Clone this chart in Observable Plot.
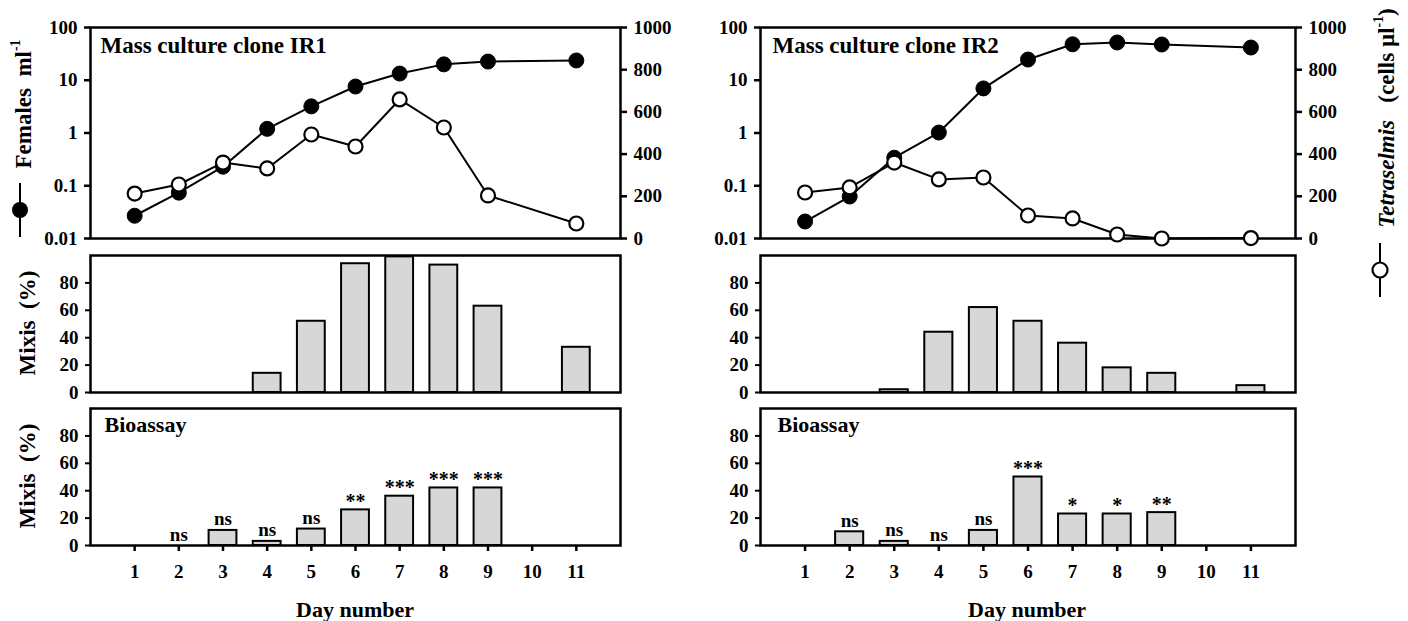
<!DOCTYPE html>
<html><head><meta charset="utf-8">
<script src="https://cdn.jsdelivr.net/npm/d3@7"></script>
<script src="https://cdn.jsdelivr.net/npm/@observablehq/plot@0.6"></script>
<style>
body{margin:0;background:#fff;}
#wrap{position:relative;width:1408px;height:621px;overflow:hidden;font-family:"Liberation Serif","Times New Roman",serif;font-weight:bold;color:#000;background:#fff;}
.rot{position:absolute;transform:translate(-50%,-50%) rotate(-90deg);white-space:nowrap;font-size:23px;line-height:1;}
.lab{position:absolute;transform:translate(-50%,-50%);white-space:nowrap;font-size:22px;line-height:1;}
sup{font-size:0.6em;vertical-align:0.75em;line-height:0;}
</style></head>
<body><div id="wrap"></div>
<script>
// ---- data ----
const days = [1, 2, 3, 4, 5, 6, 7, 8, 9, 11];
const femalesIR1 = [0.027, 0.074, 0.23, 1.2, 3.2, 7.6, 13.4, 20, 22.6, 23.7];
const tetraIR1 = [213, 256, 360, 332, 493, 436, 659, 526, 204, 71];
const femalesIR2 = [0.021, 0.0625, 0.34, 1.02, 7.0, 24.7, 48, 52, 47.6, 41.7];
const tetraIR2 = [218, 242, 360, 280, 289, 109, 95, 19, 0, 2];
const mixisDaysIR1 = [4, 5, 6, 7, 8, 9, 11];
const mixisIR1 = [14, 52, 94, 99, 93, 63, 33];
const mixisDaysIR2 = [3, 4, 5, 6, 7, 8, 9, 11];
const mixisIR2 = [2, 44, 62, 52, 36, 18, 14, 5];
const bioDays = [2, 3, 4, 5, 6, 7, 8, 9];
const bioIR1 = [0, 11, 3, 12, 26, 36, 42, 42];
const bioSigIR1 = ["ns", "ns", "ns", "ns", "**", "***", "***", "***"];
const bioIR2 = [10, 3, 0, 11, 50, 23, 23, 24];
const bioSigIR2 = ["ns", "ns", "ns", "ns", "***", "*", "*", "**"];
const dayTicks = [1, 2, 3, 4, 5, 6, 7, 8, 9, 10, 11];
const logTicks = [0.01, 0.1, 1, 10, 100];
const linTicks = [0, 200, 400, 600, 800, 1000];
const pctTicks = [0, 20, 40, 60, 80];
const titles = ["Mass culture clone IR1", "Mass culture clone IR2"];
const bioTitle = "Bioassay";

// ---- layout ----
const wrap = document.getElementById("wrap");
const FONT = "'Liberation Serif','Times New Roman',serif";
const styleStr = `font-family:${FONT};font-size:19px;font-weight:bold;background:transparent;overflow:visible;color:#000;`;
const BAR_HALF = 0.315;
const BAR_FILL = "#d7d7d7";
const cols = [
  {left: 0, width: 700, ml: 90, mr: 80, dxTitle: 10, dxBio: 14},
  {left: 680, width: 720, ml: 80, mr: 105, dxTitle: 12, dxBio: 17}
];
function place(svg, left, top) {
  svg.style.position = "absolute";
  svg.style.left = left + "px";
  svg.style.top = top + "px";
  svg.style.maxWidth = "none";
  wrap.appendChild(svg);
  return svg;
}
const rows = days.map((d, i) => i);

function topPanel(col, fem, tet, title) {
  const femData = days.map((d, i) => ({day: d, v: fem[i]}));
  const tetData = days.map((d, i) => ({day: d, v: tet[i]}));
  const common = {width: col.width, height: 250, marginLeft: col.ml, marginRight: col.mr, marginTop: 27, marginBottom: 12, style: styleStr};
  const a = Plot.plot({
    ...common,
    x: {domain: [0, 12], axis: null},
    y: {type: "log", domain: [0.01, 100], axis: null},
    marks: [
      Plot.frame({stroke: "black", strokeWidth: 2.5}),
      Plot.axisY({ticks: logTicks, tickFormat: d => String(d), tickSize: 6, tickPadding: 7, strokeWidth: 2.5, label: null}),
      Plot.line(femData, {x: "day", y: "v", stroke: "black", strokeWidth: 2}),
      Plot.dot(femData, {x: "day", y: "v", r: 7.5, fill: "black", stroke: "black", strokeWidth: 1}),
      Plot.text([title], {text: d => d, frameAnchor: "top-left", textAnchor: "start", lineAnchor: "top", dx: col.dxTitle, dy: 9, fontSize: 23, fontWeight: "bold"})
    ]
  });
  place(a, col.left, 0);
  const b = Plot.plot({
    ...common,
    x: {domain: [0, 12], axis: null},
    y: {domain: [0, 1000], axis: null},
    marks: [
      Plot.axisY({anchor: "right", ticks: linTicks, tickFormat: d => String(d), tickSize: 6, tickPadding: 7, strokeWidth: 2.5, label: null}),
      Plot.line(tetData, {x: "day", y: "v", stroke: "black", strokeWidth: 2}),
      Plot.dot(tetData, {x: "day", y: "v", r: 7, fill: "white", stroke: "black", strokeWidth: 2.2})
    ]
  });
  b.style.pointerEvents = "none";
  place(b, col.left, 0);
}

function mixisPanel(col, dArr, vals) {
  const data = dArr.map((d, i) => ({day: d, v: vals[i]}));
  const p = Plot.plot({
    width: col.width, height: 160, marginLeft: col.ml, marginRight: col.mr, marginTop: 15, marginBottom: 8, style: styleStr,
    x: {domain: [0, 12], axis: null},
    y: {domain: [0, 100], axis: null},
    marks: [
      Plot.rect(data.filter(d => d.v > 0), {x1: d => d.day - BAR_HALF, x2: d => d.day + BAR_HALF, y1: 0, y2: "v", fill: BAR_FILL, stroke: "black", strokeWidth: 2}),
      Plot.frame({stroke: "black", strokeWidth: 2.5}),
      Plot.axisY({ticks: pctTicks, tickSize: 5, tickPadding: 7, strokeWidth: 2, label: null})
    ]
  });
  place(p, col.left, 240);
}

function bioPanel(col, vals, sig) {
  const data = bioDays.map((d, i) => ({day: d, v: vals[i], s: sig[i]}));
  const p = Plot.plot({
    width: col.width, height: 185, marginLeft: col.ml, marginRight: col.mr, marginTop: 13, marginBottom: 35, style: styleStr,
    x: {domain: [0, 12], axis: null},
    y: {domain: [0, 100], axis: null},
    marks: [
      Plot.rect(data.filter(d => d.v > 0), {x1: d => d.day - BAR_HALF, x2: d => d.day + BAR_HALF, y1: 0, y2: "v", fill: BAR_FILL, stroke: "black", strokeWidth: 2}),
      Plot.frame({stroke: "black", strokeWidth: 2.5}),
      Plot.axisY({ticks: pctTicks, tickSize: 5, tickPadding: 7, strokeWidth: 2, label: null}),
      Plot.axisX({ticks: dayTicks, tickFormat: d => String(d), tickSize: 6, tickPadding: 13, strokeWidth: 2.5, label: null}),
      Plot.text(data.filter(d => d.s === "ns"), {x: "day", y: "v", text: "s", lineAnchor: "bottom", dy: -5, fontSize: 19, fontWeight: "bold"}),
      Plot.text(data.filter(d => d.s !== "ns"), {x: "day", y: "v", text: "s", lineAnchor: "bottom", dy: -2, fontSize: 20, fontWeight: "bold"}),
      Plot.text([bioTitle], {text: d => d, frameAnchor: "top-left", textAnchor: "start", lineAnchor: "top", dx: col.dxBio, dy: 8, fontSize: 22, fontWeight: "bold"})
    ]
  });
  place(p, col.left, 395);
}

topPanel(cols[0], femalesIR1, tetraIR1, titles[0]);
topPanel(cols[1], femalesIR2, tetraIR2, titles[1]);
mixisPanel(cols[0], mixisDaysIR1, mixisIR1);
mixisPanel(cols[1], mixisDaysIR2, mixisIR2);
bioPanel(cols[0], bioIR1, bioSigIR1);
bioPanel(cols[1], bioIR2, bioSigIR2);

// ---- axis titles & legend glyphs ----
function html(s) { const t = document.createElement("template"); t.innerHTML = s.trim(); const n = t.content.firstChild; wrap.appendChild(n); return n; }
html(`<div class="rot" style="left:23px;top:104px;">Females&nbsp; ml<sup>-1</sup></div>`);
html(`<div class="rot" style="left:27px;top:323px;">Mixis&nbsp; (%)</div>`);
html(`<div class="rot" style="left:27px;top:476px;">Mixis&nbsp; (%)</div>`);
html(`<div class="rot" style="left:1386px;top:118px;"><i>Tetraselmis</i>&nbsp;&nbsp; (cells µl<sup>-1</sup>)</div>`);
html(`<div class="lab" style="left:355px;top:610px;">Day number</div>`);
html(`<div class="lab" style="left:1027px;top:610px;">Day number</div>`);
html(`<svg style="position:absolute;left:10px;top:180px;overflow:visible" width="20" height="60"><line x1="10" x2="10" y1="3" y2="57" stroke="black" stroke-width="2"/><circle cx="10" cy="30" r="8" fill="black"/></svg>`);
html(`<svg style="position:absolute;left:1370px;top:240px;overflow:visible" width="20" height="60"><line x1="10" x2="10" y1="3" y2="57" stroke="black" stroke-width="2"/><circle cx="10" cy="30" r="7.5" fill="white" stroke="black" stroke-width="2.2"/></svg>`);
</script>
</body></html>
